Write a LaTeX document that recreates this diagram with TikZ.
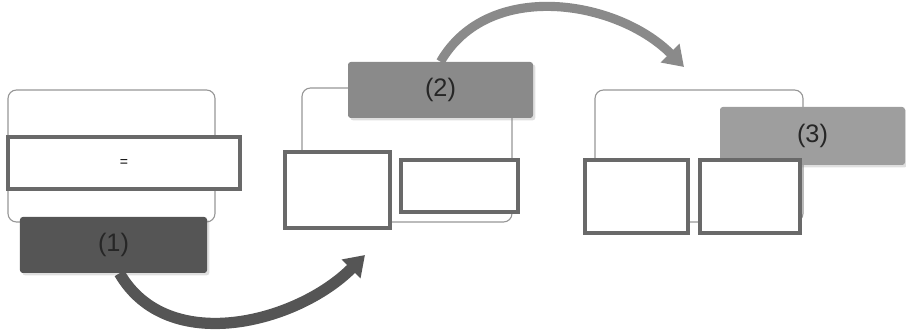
\documentclass[tikz,border=0pt]{standalone}
\usepackage{fontspec}
\setmainfont{Liberation Sans}
\usepackage{tikz}
\usetikzlibrary{arrows.meta,shadows}
\definecolor{stepdark}{RGB}{85,85,85}
\definecolor{stepmid}{RGB}{138,138,138}
\definecolor{steplight}{RGB}{158,158,158}
\definecolor{framegray}{RGB}{150,150,150}
\definecolor{slotgray}{RGB}{105,105,105}

\begin{document}
\begin{tikzpicture}[
    frame/.style={draw=framegray, line width=0.8pt, rounded corners=6pt},
    slot/.style={draw=slotgray, line width=2.8pt, fill=white, inner sep=0pt},
    stepbox/.style={rounded corners=2pt, inner sep=0pt, minimum width=4.65cm, minimum height=1.4cm,
        text=black!85, font=\fontsize{18}{20}\selectfont,
        drop shadow={opacity=0.25, shadow xshift=0.06cm, shadow yshift=-0.06cm}},
    bigarrow/.style={line width=8pt, -{Triangle[width=18pt, length=14pt]}}
]
\useasboundingbox (0,0) rectangle (22.65,8.375);

% panel 1
\node[frame, minimum width=5.175cm, minimum height=3.3cm] (f1) at (2.7875,4.475) {};
\node[slot, minimum width=5.8cm, minimum height=1.3cm] (s1) at (3.1,4.3) {=};
\node[stepbox, fill=stepdark, minimum width=4.675cm] (b1) at (2.8375,2.25) {(1)};

% panel 2
\node[frame, minimum width=5.25cm, minimum height=3.35cm] (f2) at (10.175,4.5) {};
\node[stepbox, fill=stepmid, minimum width=4.625cm] (b2) at (11.0125,6.125) {(2)};
\node[slot, minimum width=2.625cm, minimum height=1.9cm] (s2a) at (8.4375,3.625) {};
\node[slot, minimum width=2.925cm, minimum height=1.3cm] (s2b) at (11.4875,3.725) {};

% panel 3
\node[frame, minimum width=5.2cm, minimum height=3.3cm] (f3) at (17.475,4.475) {};
\node[stepbox, fill=steplight, minimum width=4.625cm, minimum height=1.45cm] (b3) at (20.3125,4.975) {(3)};
\node[slot, minimum width=2.575cm, minimum height=1.825cm] (s3a) at (15.9125,3.4625) {};
\node[slot, minimum width=2.5cm, minimum height=1.825cm] (s3b) at (18.75,3.4625) {};

% arrows between steps
\coordinate (a1) at (9.125,2.0);
\coordinate (a2) at (17.1,6.7);
\draw[bigarrow, stepdark] ([xshift=0.15cm]b1.south) to[out=-60, in=-135] (a1);
\draw[bigarrow, stepmid, line width=6.5pt] (b2.north) to[out=60, in=135] (a2);
\end{tikzpicture}
\end{document}
